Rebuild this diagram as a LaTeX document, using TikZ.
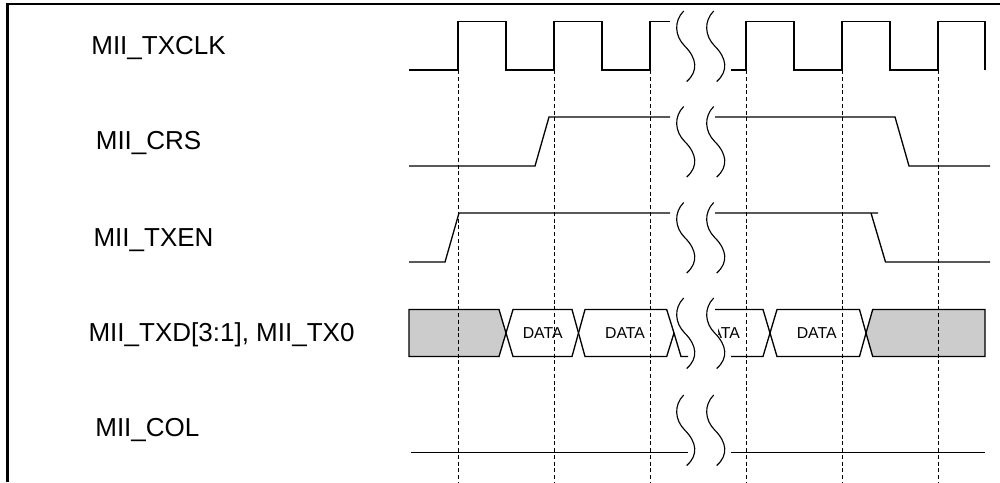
\documentclass[tikz,border=0pt]{standalone}
\usepackage{fontspec}
\setmainfont{Liberation Sans}
\begin{document}
\begin{tikzpicture}[x=0.2mm,y=-0.2mm,
  sig/.style={line width=0.75pt},
  guide/.style={line width=0.55pt,dash pattern=on 0.8mm off 0.55mm},
  brk/.style={line width=0.65pt},
  bus/.style={line width=0.75pt,fill=white},
  idle/.style={line width=0.75pt,fill=black!20},
  lab/.style={anchor=base west,inner sep=0pt,font=\fontsize{14.8}{17}\selectfont},
  datalab/.style={inner sep=0pt,font=\fontsize{9}{11}\selectfont}]
\useasboundingbox (0,0) rectangle (1000,482);
\draw[line width=1.4pt] (7.7,482) -- (7.7,4) -- (1000,4);

\node[lab] (txclk) at (91,54) {MII\_TXCLK};
\node[lab] (crs) at (95.5,149.3) {MII\_CRS};
\node[lab] (txen) at (93.2,246) {MII\_TXEN};
\node[lab] (txd) at (88.2,341.7) {MII\_TXD[3:1], MII\_TX0};
\node[lab] (col) at (95,436.7) {MII\_COL};

\draw[sig] (409,70) -- (458,70) -- (458,21.5) -- (506,21.5) -- (506,70) -- (554,70) -- (554,21.5)
   -- (602,21.5) -- (602,70) -- (650,70) -- (650,21.5) -- (670,21.5);
\draw[sig] (731,70) -- (746,70) -- (746,21.5) -- (794,21.5) -- (794,70) -- (842,70) -- (842,21.5)
   -- (890,21.5) -- (890,70) -- (938,70) -- (938,21.5) -- (985,21.5) -- (985,70);

\draw[sig] (409,166) -- (535,166) -- (549,117) -- (670,117);
\draw[sig] (715,117) -- (895,117) -- (909,166) -- (990,166);

\draw[sig] (409,262) -- (445,262) -- (459,213) -- (670,213);
\draw[sig] (715,213) -- (878,213) (871,213) -- (885.5,262) -- (990,262);

\filldraw[idle] (409,309.5) -- (499,309.5) -- (506,333) -- (499,356.5) -- (409,356.5) -- cycle;
\draw[bus] (506,333) -- (513,309.5) -- (572,309.5) -- (578.5,333) -- (572,356.5) -- (513,356.5) -- cycle;
\draw[bus] (578.5,333) -- (585,309.5) -- (666.7,309.5) -- (674,333) -- (666.7,356.5) -- (585,356.5) -- cycle;
\draw[sig] (674,333) -- (681,356.5) -- (688,356.5);
\draw[sig] (715,309.5) -- (763,309.5) -- (770,333) -- (763,356.5) -- (731,356.5);
\draw[bus] (770,333) -- (777,309.5) -- (859.5,309.5) -- (866,333) -- (859.5,356.5) -- (777,356.5) -- cycle;
\filldraw[idle] (866,333) -- (872.7,309.5) -- (985,309.5) -- (985,356.5) -- (872.7,356.5) -- cycle;
\node[datalab] (data1) at (542.7,333) {DATA};
\node[datalab] (data2) at (625,333) {DATA};
\node[datalab] (data4) at (816.7,333) {DATA};
\begin{scope}
\clip (718,300) rectangle (768,366);
\node[datalab] (data3) at (720,333) {DATA};
\end{scope}

\draw[sig] (411,452.3) -- (688,452.3);
\draw[sig] (731,452.3) -- (985,452.3);

\foreach \x in {458,554,650,746,842,938}
{
\draw[guide] (\x,70) -- (\x,482);
}
\foreach \r in {46,141.5,237.5,333,430}
{
\foreach \x in {676.7,706.7}
{
\draw[brk] (\x+7,\r-35) .. controls (\x-3,\r-25) and (\x-2,\r-10) .. (\x+8,\r)
   .. controls (\x+20,\r+12) and (\x+22,\r+25) .. (\x+10,\r+35.5);
}
}
\end{tikzpicture}
\end{document}
